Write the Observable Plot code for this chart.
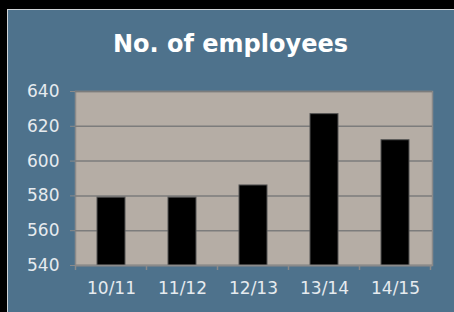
<!DOCTYPE html>
<html>
<head>
<meta charset="utf-8">
<script src="https://cdn.jsdelivr.net/npm/d3@7"></script>
<script src="https://cdn.jsdelivr.net/npm/@observablehq/plot@0.6"></script>
<style>
  html, body { margin: 0; padding: 0; background: #000; width: 454px; height: 312px; overflow: hidden; }
  #panel { position: absolute; left: 7px; top: 9px; width: 447px; height: 303px; box-sizing: border-box;
           background: #4e728c; border-top: 1px solid #cfd3d6; border-left: 1px solid #cfd3d6; }
  #title { position: absolute; left: 7px; top: 29px; width: 447px; text-align: center;
           font-family: "DejaVu Sans", Verdana, sans-serif; font-weight: bold; font-size: 24px; color: #fff; line-height: 30px; }
  #chart { position: absolute; left: 0; top: 0; }
</style>
</head>
<body>
<div id="panel"></div>
<div id="title">No. of employees</div>
<div id="chart"></div>
<script>
const categories = ["10/11", "11/12", "12/13", "13/14", "14/15"];
const employees = [579, 579, 586, 627, 612];
const yTicks = [540, 560, 580, 600, 620, 640];

const data = categories.map((c, i) => ({ year: c, value: employees[i] }));

const plot = Plot.plot({
  width: 454,
  height: 312,
  marginLeft: 75,
  marginRight: 22,
  marginTop: 91,
  marginBottom: 47,
  style: { background: "transparent", fontFamily: "'DejaVu Sans', Verdana, sans-serif", fontSize: "17px", color: "#e6ebef" },
  x: { domain: categories, paddingInner: 0.6, paddingOuter: 0.3, label: null },
  y: { domain: [540, 640], label: null },
  marks: [
    Plot.frame({ fill: "#b5ada5", stroke: "#8a8a8a", strokeWidth: 1.5 }),
    Plot.ruleY(yTicks, { stroke: "#7c7c7c", strokeWidth: 1.5 }),
    Plot.barY(data, { x: "year", y1: 540, y2: "value", fill: "#000", stroke: "#555", strokeWidth: 1 }),
    Plot.axisY({ ticks: yTicks, tickSize: 5, tickPadding: 11, stroke: "#8a8a8a", fill: "#e6ebef", fontSize: 17, tickFormat: d => String(d) }),
    Plot.axisX({ tickSize: 0, tickPadding: 16, fill: "#e6ebef", fontSize: 17 }),
    Plot.ruleY([540], { stroke: "#8a8a8a", strokeWidth: 1.5 })
  ]
});

// band-boundary tick marks on the x axis, computed from the x scale
const sx = plot.scale("x");
const ySc = plot.scale("y");
const y0 = ySc.apply(540);
const half = (sx.step - sx.bandwidth) / 2;
const edges = categories.map(c => sx.apply(c) - half);
edges.push(sx.apply(categories[categories.length - 1]) + sx.bandwidth + half);
d3.select(plot).append("g")
  .selectAll("line").data(edges).join("line")
  .attr("x1", d => d).attr("x2", d => d)
  .attr("y1", y0).attr("y2", y0 + 5)
  .attr("stroke", "#8a8a8a").attr("stroke-width", 1.5);

document.getElementById("chart").appendChild(plot);
</script>
</body>
</html>
